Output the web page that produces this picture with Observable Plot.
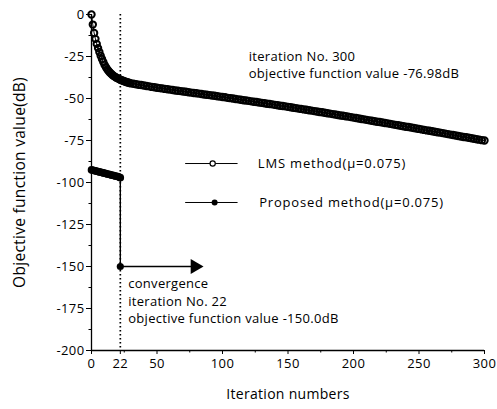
<!DOCTYPE html>
<html><head><meta charset="utf-8">
<script src="https://cdn.jsdelivr.net/npm/d3@7"></script>
<script src="https://cdn.jsdelivr.net/npm/@observablehq/plot@0.6"></script>
<style>
body{margin:0;background:#fff} #chart svg{display:block}
.legtxt text{letter-spacing:0.8px}
.notetxt text{letter-spacing:0.3px}
.ticktxt text{letter-spacing:0.4px}
</style>
</head><body><div id="chart"></div>
<script>
// ---- data ----
const lmsIter = d3.range(0, 31).concat(d3.range(32, 301, 2));
const lmsValue = [
  0, -6, -11, -14.5, -17.5, -20, -22.3, -24.5, -26.5, -28.3, -30, -31.4, -32.6, -33.6, -34.5, -35.3,
  -36, -36.6, -37.1, -37.6, -38, -38.4, -38.8, -39.1, -39.4, -39.7, -40, -40.3, -40.5, -40.8, -41,
  -41.2, -41.5, -41.8, -42.0, -42.3, -42.6, -42.8, -43.1, -43.3, -43.6, -43.8, -44.0, -44.3, -44.5,
  -44.7, -44.9, -45.2, -45.4, -45.6, -45.8, -46.0, -46.3, -46.5, -46.7, -46.9, -47.1, -47.3, -47.6,
  -47.8, -48.0, -48.2, -48.4, -48.7, -48.9, -49.1, -49.3, -49.6, -49.8, -50.0, -50.3, -50.5, -50.7,
  -51.0, -51.2, -51.4, -51.7, -51.9, -52.1, -52.4, -52.6, -52.8, -53.1, -53.3, -53.5, -53.8, -54.0,
  -54.3, -54.5, -54.7, -55.0, -55.2, -55.5, -55.7, -56.0, -56.2, -56.5, -56.7, -57.0, -57.2, -57.5,
  -57.7, -58.0, -58.2, -58.5, -58.8, -59.0, -59.3, -59.5, -59.8, -60.1, -60.3, -60.6, -60.8, -61.1,
  -61.4, -61.6, -61.9, -62.2, -62.4, -62.7, -63.0, -63.2, -63.5, -63.8, -64.0, -64.3, -64.6, -64.8,
  -65.1, -65.4, -65.7, -65.9, -66.2, -66.5, -66.8, -67.0, -67.3, -67.6, -67.9, -68.1, -68.4, -68.7,
  -69.0, -69.2, -69.5, -69.8, -70.1, -70.3, -70.6, -70.9, -71.2, -71.5, -71.7, -72.0, -72.3, -72.6,
  -72.9, -73.1, -73.4, -73.7, -74.0, -74.3, -74.5, -74.8, -75.0
];
const propIter = d3.range(0, 23);
const propValue = [
  -92.5, -92.7, -92.9, -93.1, -93.3, -93.5, -93.7, -93.9, -94.1, -94.3, -94.5, -94.7,
  -94.9, -95.1, -95.3, -95.5, -95.7, -95.9, -96.1, -96.3, -96.5, -96.8, -97.1
];
const convIter = 22;
const convValue = -150.0;

const xDomain = [0, 300];
const yDomain = [-200, 0];
const xTicks = [0, 22, 50, 100, 150, 200, 250, 300];
const xMinorTicks = [25, 75, 125, 175, 225, 275];
const yTicks = [0, -25, -50, -75, -100, -125, -150, -175, -200];
const yMinorTicks = [-12.5, -37.5, -62.5, -87.5, -112.5, -137.5, -162.5, -187.5];

const xLabel = "Iteration numbers";
const yLabel = "Objective function value(dB)";
const legendLabels = ["LMS method(\u03bc=0.075)", "Proposed method(\u03bc=0.075)"];
const note300 = ["iteration No. 300", "objective function value -76.98dB"];
const note22 = ["convergence", "iteration No. 22", "objective function value -150.0dB"];

const lms = lmsIter.map((x, i) => ({x, y: lmsValue[i]}));
const prop = propIter.map((x, i) => ({x, y: propValue[i]}));
const conv = [{x: convIter, y: convValue}];
const lastProp = prop[prop.length - 1];

const chart = Plot.plot({
  width: 497, height: 409,
  marginLeft: 91, marginRight: 13, marginTop: 14, marginBottom: 59,
  x: {domain: xDomain},
  y: {domain: yDomain},
  style: {fontFamily: "'Open Sans', sans-serif", fontSize: "12px", color: "#000", background: "#fff"},
  marks: [
    Plot.ruleX([convIter], {y1: yDomain[1], y2: yDomain[0], strokeDasharray: "1.6,2.4", strokeWidth: 1.7, stroke: "#000"}),
    Plot.ruleX([xDomain[0]], {stroke: "#000", strokeWidth: 1.3}),
    Plot.ruleY([yDomain[0]], {stroke: "#000", strokeWidth: 1.3}),
    Plot.axisY({ticks: yTicks, tickSize: 5, tickPadding: 2, tickFormat: d => String(d), fontSize: 13, label: null, className: "ticktxt"}),
    Plot.axisY({ticks: yMinorTicks, tickSize: 2.5, tickFormat: () => "", label: null}),
    Plot.axisX({ticks: xTicks, tickSize: 4, tickPadding: 4, tickFormat: d => String(d), fontSize: 13, label: null, className: "ticktxt"}),
    Plot.axisX({ticks: xMinorTicks, tickSize: 2.5, tickFormat: () => "", label: null}),
    Plot.text([yLabel], {frameAnchor: "left", textAnchor: "middle", rotate: -90, dx: -71, fontSize: 15.5, className: "notetxt"}),
    Plot.text([xLabel], {frameAnchor: "bottom", textAnchor: "middle", dy: 48, fontSize: 14, className: "notetxt"}),
    // LMS curve
    Plot.line(lms, {x: "x", y: "y", stroke: "#000", strokeWidth: 1}),
    Plot.dot(lms, {x: "x", y: "y", r: 3.2, stroke: "#000", strokeWidth: 2, fill: "none"}),
    // Proposed
    Plot.line(prop, {x: "x", y: "y", stroke: "#000", strokeWidth: 1}),
    Plot.dot(prop, {x: "x", y: "y", r: 3.8, fill: "#000"}),
    Plot.link([lastProp], {x1: "x", y1: "y", x2: convIter, y2: convValue, stroke: "#000", strokeWidth: 1.4}),
    Plot.dot(conv, {x: "x", y: "y", r: 3.6, fill: "#000"}),
    // arrow
    Plot.link(conv, {x1: "x", y1: "y", x2: 76, y2: "y", stroke: "#000", strokeWidth: 1.5}),
    Plot.dot(conv, {x: 79, y: "y", symbol: "triangle", r: 5.5, rotate: 90, fill: "#000"}),
    // annotations
    Plot.text([note300.join("\n")], {x: 120, y: -29.5, textAnchor: "start", lineHeight: 1.35, fontSize: 13, className: "notetxt"}),
    Plot.text([note22.join("\n")], {x: 28, y: -170, textAnchor: "start", lineHeight: 1.35, fontSize: 13, className: "notetxt"}),
    // legend
    Plot.link([0], {x1: 71.5, x2: 111.5, y1: -88.7, y2: -88.7, stroke: "#000", strokeWidth: 1}),
    Plot.dot([0], {x: 92.5, y: -88.7, r: 2.6, stroke: "#000", strokeWidth: 1.2, fill: "#fff"}),
    Plot.text([legendLabels[0]], {x: 127, y: -88.7, textAnchor: "start", fontSize: 13, className: "legtxt"}),
    Plot.link([0], {x1: 71.5, x2: 111.5, y1: -111.9, y2: -111.9, stroke: "#000", strokeWidth: 1}),
    Plot.dot([0], {x: 94, y: -111.9, r: 3, fill: "#000"}),
    Plot.text([legendLabels[1]], {x: 128, y: -111.9, textAnchor: "start", fontSize: 13, className: "legtxt"})
  ]
});
document.getElementById("chart").appendChild(chart);
</script>
</body></html>
